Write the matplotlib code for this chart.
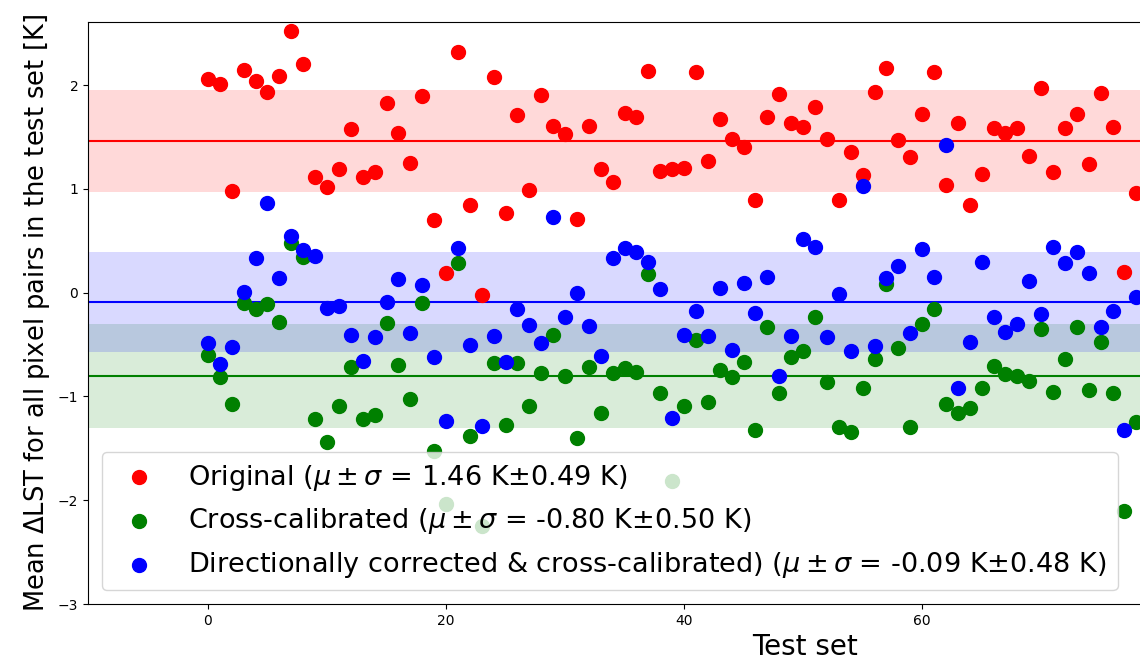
import matplotlib
matplotlib.use("Agg")
import matplotlib.pyplot as plt
import numpy as np

original = [2.055, 2.01, 0.98, 2.145, 2.04, 1.93, 2.087, 2.52, 2.20, 1.117,
            1.014, 1.188, 1.573, 1.117, 1.159, 1.824, 1.54, 1.25, 1.894, 0.70,
            0.192, 2.315, 0.844, -0.023, 2.074, 0.764, 1.711, 0.988, 1.904, 1.605,
            1.528, 0.706, 1.605, 1.188, 1.069, 1.727, 1.689, 2.135, 1.175, 1.188,
            1.197, 2.122, 1.268, 1.675, 1.483, 1.40, 0.889, 1.695, 1.917, 1.631,
            1.598, 1.788, 1.483, 0.889, 1.357, 1.133, 1.935, 2.167, 1.47, 1.309,
            1.72, 2.122, 1.037, 1.631, 0.841, 1.14, 1.583, 1.54, 1.583, 1.319,
            1.971, 1.159, 1.583, 1.72, 1.239, 1.926, 1.592, 0.196, 0.963]

cross_cal = [-0.601, -0.816, -1.076, -0.103, -0.161, -0.11, -0.286, 0.481, 0.34, -1.22,
             -1.436, -1.09, -0.72, -1.22, -1.18, -0.296, -0.697, -1.028, -0.103, -1.53,
             -2.037, 0.282, -1.38, -2.249, -0.681, -1.276, -0.675, -1.092, -0.778, -0.409,
             -0.803, -1.404, -0.714, -1.163, -0.778, -0.729, -0.762, 0.179, -0.97, -1.812,
             -1.089, -0.457, -1.051, -0.746, -0.816, -0.665, -1.324, -0.334, -0.97, -0.617,
             -0.563, -0.232, -0.858, -1.292, -1.34, -0.922, -0.643, 0.083, -0.537, -1.29,
             -0.302, -0.161, -1.073, -1.156, -1.108, -0.922, -0.707, -0.787, -0.80, -0.849,
             -0.354, -0.961, -0.643, -0.328, -0.938, -0.479, -0.97, -2.104, -1.244]

dir_corr = [-0.489, -0.688, -0.528, 0.009, 0.33, 0.866, 0.138, 0.545, 0.41, 0.352,
            -0.152, -0.13, -0.409, -0.656, -0.425, -0.087, 0.128, -0.392, 0.073, -0.617,
            -1.234, 0.433, -0.505, -1.282, -0.415, -0.665, -0.161, -0.312, -0.489, 0.725,
            -0.232, -0.001, -0.322, -0.608, 0.33, 0.433, 0.388, 0.298, 0.032, -1.211,
            -0.409, -0.174, -0.418, 0.047, -0.553, 0.09, -0.2, 0.147, -0.803, -0.418,
            0.513, 0.442, -0.431, -0.014, -0.563, 1.027, -0.514, 0.138, 0.256, -0.392,
            0.42, 0.147, 1.422, -0.916, -0.473, 0.292, -0.232, -0.383, -0.302, 0.112,
            -0.206, 0.442, 0.282, 0.388, 0.192, -0.334, -0.177, -1.324, -0.045]

series_names = ["Original", "Cross-calibrated", "Directionally corrected & cross-calibrated)"]
series_means = [1.46, -0.80, -0.09]
series_stds = [0.49, 0.50, 0.48]
series_colors = ["red", "green", "blue"]

W, H = 1140, 663
fig = plt.figure(figsize=(W / 100, H / 100), dpi=100)
# axes wider than the figure: the reference is cropped on the right
ax = fig.add_axes([88 / W, 59 / H, (1522 - 88) / W, (604 - 22) / H])

for data, name, mu, sd, c in zip([original, cross_cal, dir_corr], series_names,
                                 series_means, series_stds, series_colors):
    x = np.arange(len(data))
    label = name + r" ($\mu \pm \sigma$ = " + f"{mu:.2f} K" + r"$\pm$" + f"{sd:.2f} K)"
    ax.scatter(x, data, s=100, color=c, label=label, zorder=3)
    ax.axhline(mu, color=c, lw=1.5, zorder=2)
    ax.axhspan(mu - sd, mu + sd, color=c, alpha=0.15, lw=0, zorder=1)

ax.set_xlim(-10.08, 110.4)
ax.set_ylim(-3, 2.607)
ax.set_xticks([0, 20, 40, 60])
ax.set_yticks([-3, -2, -1, 0, 1, 2])
ax.set_xlabel("Test set", fontsize=20)
ax.set_ylabel(r"Mean $\Delta$LST for all pixel pairs in the test set [K]", fontsize=18.5)
ax.legend(loc="lower left", fontsize=19.5)

fig.savefig("out.png", dpi=100)
